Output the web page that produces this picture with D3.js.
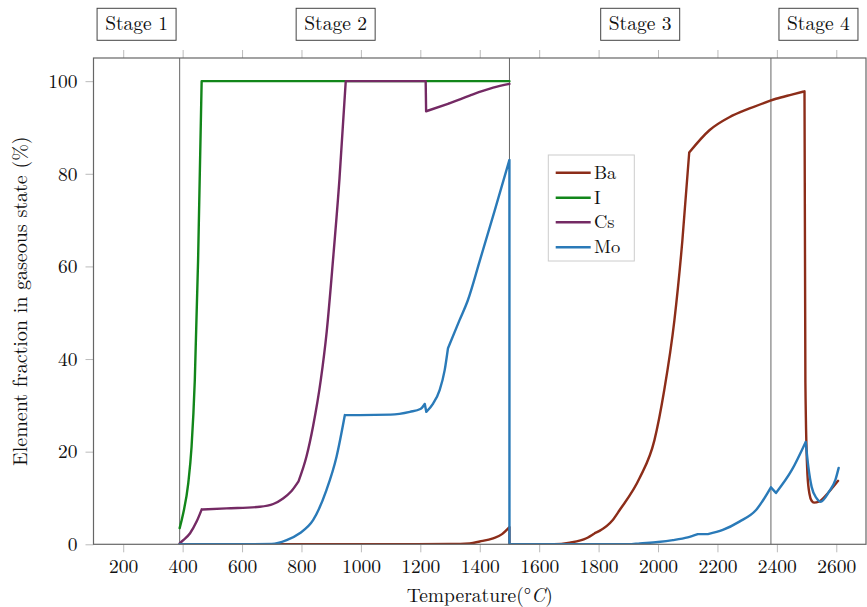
<!DOCTYPE html>
<html><head><meta charset="utf-8">
<script src="https://cdn.jsdelivr.net/npm/d3@7"></script>
<style>
body{margin:0;background:#fff;}
text{font-family:"Latin Modern Roman","Liberation Serif",serif;fill:#111;}
</style></head>
<body><svg id="c" width="867" height="607"></svg>
<script>
// ---- data ----
const xTicks = [200,400,600,800,1000,1200,1400,1600,1800,2000,2200,2400,2600];
const yTicks = [0,20,40,60,80,100];
const stageLabels = ["Stage 1","Stage 2","Stage 3","Stage 4"];
const stageCenters = [245, 915, 1940, 2540];
const stageBounds = [390, 1500, 2380];

const seriesNames = ["Ba","I","Cs","Mo"];
const seriesColors = ["#8c2d19","#12861a","#742a64","#2a7ab8"];

const baT = [390,1000,1300,1366,1400,1445,1475,1499.9,1500,1650,1703,1759,1787,1803,1847,1871,1938,1988,2021,2055,2082,2105,2173,2240,2308,2378,2397,2450,2493,2496,2503,2510,2517,2525,2541,2575,2606];
const baV = [0,0,0.05,0.2,0.6,1.3,2.2,3.7,0,0,0.35,1.3,2.4,2.9,5.2,7.4,14.3,22.5,33.3,48.3,65.6,84.6,89.4,92.2,94.1,95.8,96.2,97.1,97.8,35,15,10.8,9.4,9.0,9.2,11.3,13.7];
const baKinks = [1499.9,1500,1787,2105,2378,2493];

const iT = [390,402,419,430,441,452,464,1500];
const iV = [3.5,6.7,13.2,21,35.5,61.3,100,100];
const iKinks = [464];

const csT = [390,402,425,447,464,548,660,705,738,765,790,817,839,865,885,906,928,949,1218,1219.5,1293,1366,1445,1500];
const csV = [0.2,0.9,2.4,4.9,7.5,7.75,8.1,8.7,9.9,11.4,13.6,19.0,25.5,35.5,46,61.3,79,100,100,93.5,95.1,96.9,98.6,99.4];
const csKinks = [464,790,949,1218,1219.5,1293];

const moT = [390,700,750,794,839,884,918,946,996,1100,1165,1200,1215,1220,1243,1265,1282,1293,1332,1360,1400,1450,1499.9,1500,1900,1939,2000,2050,2100,2134,2168,2218,2274,2330,2380,2397,2450,2497,2506,2517,2534,2547,2575,2597,2608];
const moV = [0,0.05,0.9,2.4,5.2,11.7,18.9,27.9,27.9,28.0,28.6,29.2,30.3,28.6,30.4,33.3,37.6,42.3,48.4,52.7,61.2,72,83,0,0,0.2,0.5,0.9,1.5,2.2,2.2,3.1,4.9,7.4,12.3,11.1,16,22.1,16.7,12.4,9.9,9.2,11.3,13.9,16.5];
const moKinks = [946,1215,1220,1293,1499.9,1500,2134,2168,2380,2397,2497];

const seriesT = [baT, iT, csT, moT];
const seriesV = [baV, iV, csV, moV];
const seriesKinks = [baKinks, iKinks, csKinks, moKinks];

// ---- chart ----
const svg = d3.select("#c");
const L = 93.5, R = 866, T = 58, B = 544.3;
const x = d3.scaleLinear().domain([100,2700]).range([L,R]);
const y = d3.scaleLinear().domain([0,105]).range([B,T]);
const FS = 19.5;

const gx = svg.append("g").attr("transform",`translate(0,${B})`)
  .call(d3.axisBottom(x).tickValues(xTicks).tickSize(8).tickPadding(7).tickFormat(d3.format("d")));
gx.select(".domain").remove();
gx.selectAll(".tick line").attr("stroke","#bbb");
gx.selectAll(".tick text").style("font-size",FS+"px").attr("fill","#111");

const gt = svg.append("g").attr("transform",`translate(0,${T})`)
  .call(d3.axisTop(x).tickValues(xTicks).tickSize(8).tickFormat(""));
gt.select(".domain").remove();
gt.selectAll(".tick line").attr("stroke","#bbb");

const gy = svg.append("g").attr("transform",`translate(${L},0)`)
  .call(d3.axisLeft(y).tickValues(yTicks).tickSize(8).tickPadding(8));
gy.select(".domain").remove();
gy.selectAll(".tick line").attr("stroke","#bbb");
gy.selectAll(".tick text").style("font-size",FS+"px").attr("fill","#111");

svg.append("clipPath").attr("id","clip").append("rect")
  .attr("x",L).attr("y",T).attr("width",R-L).attr("height",B-T);

svg.append("g").selectAll("line").data(stageBounds).join("line")
  .attr("x1",d=>x(d)).attr("x2",d=>x(d)).attr("y1",T).attr("y2",B)
  .attr("stroke","#666").attr("stroke-width",1);

// series: smooth (monotone) pieces joined at the kinks
const line = d3.line().x(d=>x(d[0])).y(d=>y(d[1])).curve(d3.curveMonotoneX);
const g = svg.append("g").attr("clip-path","url(#clip)");
seriesNames.forEach((n,i)=>{
  const pts = seriesT[i].map((t,j)=>[t, seriesV[i][j]]);
  const kinks = new Set(seriesKinks[i]);
  const pieces = [];
  let cur = [];
  pts.forEach(p=>{
    cur.push(p);
    if (kinks.has(p[0])) { pieces.push(cur); cur = [p]; }
  });
  if (cur.length > 1) pieces.push(cur);
  const d = pieces.map(pc => line(pc)).join("");
  g.append("path").attr("d",d)
    .attr("fill","none").attr("stroke",seriesColors[i])
    .attr("stroke-width",2.4).attr("stroke-linejoin","round").attr("stroke-linecap","round");
});

svg.append("rect").attr("x",L).attr("y",T).attr("width",R-L).attr("height",B-T)
  .attr("fill","none").attr("stroke","#666").attr("stroke-width",1.2);

stageLabels.forEach((s,i)=>{
  const cx = x(stageCenters[i]);
  svg.append("rect").attr("x",cx-39.5).attr("y",8.3).attr("width",79).attr("height",32)
    .attr("fill","#fff").attr("stroke","#444").attr("stroke-width",1);
  svg.append("text").attr("x",cx).attr("y",30).attr("text-anchor","middle")
    .style("font-size",FS+"px").text(s);
});

const lg = svg.append("g");
lg.append("rect").attr("x",548.3).attr("y",155).attr("width",86).attr("height",106)
  .attr("fill","#fff").attr("stroke","#ccc").attr("stroke-width",1);
const ly = [172.7,197.7,222.2,247.3];
seriesNames.forEach((n,i)=>{
  lg.append("line").attr("x1",555.7).attr("x2",590.7).attr("y1",ly[i]).attr("y2",ly[i])
    .attr("stroke",seriesColors[i]).attr("stroke-width",2.4);
  lg.append("text").attr("x",594).attr("y",ly[i]+6).style("font-size","18.5px").text(n);
});

const xl = svg.append("text").attr("x",(L+R)/2).attr("y",601.5).attr("text-anchor","middle")
  .style("font-size",FS+"px");
xl.append("tspan").text("Temperature(°");
xl.append("tspan").style("font-style","italic").text("C");
xl.append("tspan").text(")");

svg.append("text").attr("transform",`translate(27,${(T+B)/2}) rotate(-90)`)
  .attr("text-anchor","middle").style("font-size","20px")
  .text("Element fraction in gaseous state (%)");
</script></body></html>
